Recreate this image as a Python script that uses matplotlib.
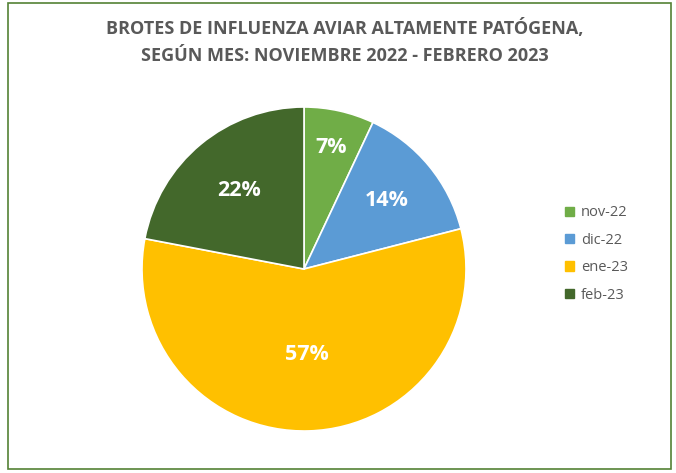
import matplotlib.pyplot as plt
import numpy as np
from matplotlib.patches import Rectangle

# data
months = ["nov-22", "dic-22", "ene-23", "feb-23"]
shares = [7, 14, 57, 22]
colors = ["#70AD47", "#5B9BD5", "#FFC000", "#43682B"]
label_dist = [0.77, 0.66, 0.53, 0.63]

title = "BROTES DE INFLUENZA AVIAR ALTAMENTE PATÓGENA,\nSEGÚN MES: NOVIEMBRE 2022 - FEBRERO 2023"

plt.rcParams['font.family'] = ['Open Sans', 'DejaVu Sans']

fig = plt.figure(figsize=(6.76, 4.73), dpi=100)
fig.patches.append(Rectangle((8 / 676, 4 / 473), 663 / 676, 466 / 473,
                             transform=fig.transFigure, fill=False,
                             edgecolor="#548235", linewidth=1.2))

ax = fig.add_axes([(304 - 162) / 676, (473 - 269 - 162) / 473, 324 / 676, 324 / 473])
wedges, _ = ax.pie(shares, colors=colors, startangle=90, counterclock=False,
                   wedgeprops=dict(edgecolor="white", linewidth=1.2))
ax.set_xlim(-1, 1)
ax.set_ylim(-1, 1)
ax.set_aspect("equal")

for w, v, d in zip(wedges, shares, label_dist):
    ang = np.deg2rad((w.theta1 + w.theta2) / 2)
    ax.text(d * np.cos(ang), d * np.sin(ang), f"{v}%", ha="center", va="center",
            color="white", fontsize=15.5, fontweight="bold")

handles = [Rectangle((0, 0), 1, 1, color=c) for c in colors]
fig.legend(handles, months, loc="center left", bbox_to_anchor=(552 / 676, 1 - 254 / 473),
           frameon=False, fontsize=10.5, labelcolor="#595959",
           handlelength=0.6, handleheight=0.6, handletextpad=0.5, labelspacing=0.85)

fig.text(345 / 676, 1 - 42 / 473, title, ha="center", va="center",
         fontsize=13, fontweight="bold", color="#595959", linespacing=1.65)

fig.savefig("out.png", dpi=100)
